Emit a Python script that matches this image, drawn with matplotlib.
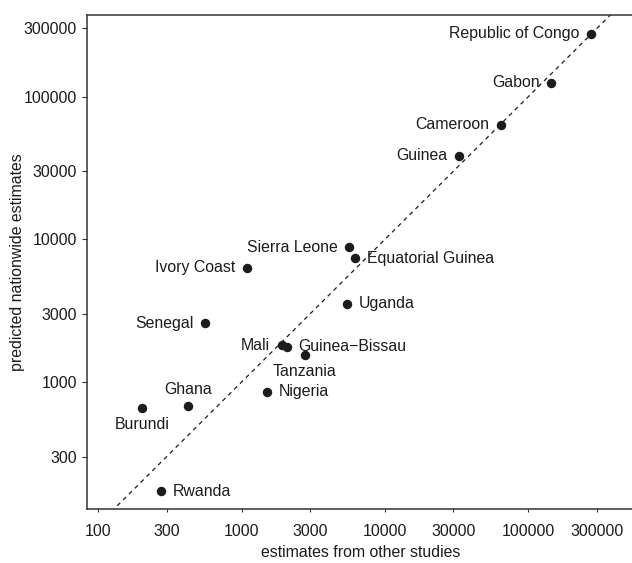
import numpy as np
import matplotlib.pyplot as plt
from matplotlib.ticker import FixedLocator, NullLocator

plt.rcParams['font.family'] = ['Liberation Sans', 'DejaVu Sans']
plt.rcParams['font.size'] = 11.4

# valores
paises = ['Republic of Congo', 'Gabon', 'Cameroon', 'Guinea', 'Sierra Leone',
          'Equatorial Guinea', 'Ivory Coast', 'Uganda', 'Senegal', 'Mali',
          'Guinea\u2212Bissau', 'Tanzania', 'Nigeria', 'Ghana', 'Burundi', 'Rwanda']
outros_estudos = [272000, 144000, 64600, 33000, 5600,
                  6220, 1084, 5450, 553, 1905,
                  2065, 2760, 1514, 423, 203, 275]
previstos = [275000, 125000, 63200, 38400, 8800,
             7360, 6320, 3520, 2580, 1815,
             1766, 1545, 851, 680, 660, 171]
posicao = ['left', 'left', 'left', 'left', 'left',
           'right', 'left', 'right', 'left', 'left',
           'right', 'below', 'right', 'above', 'below', 'right']

ticks = [100, 300, 1000, 3000, 10000, 30000, 100000, 300000]
ticks_y = [300, 1000, 3000, 10000, 30000, 100000, 300000]

cor = '#1c1c1c'

fig = plt.figure(figsize=(6.32, 5.63), dpi=100)
ax = fig.add_axes([0.138, 0.096, 0.866, 0.8765])
ax.set_xscale('log')
ax.set_yscale('log')

# linha y = x
linha = np.array([10, 1e7])
ax.plot(linha, linha, ls=(0, (3.4, 3.2)), lw=0.9, color=cor)

ax.plot(outros_estudos, previstos, 'o', ms=5.8, color=cor, mec=cor)

desloc = {'left': ((-8.3, 0), 'right', 'center'),
          'right': ((8.3, 0), 'left', 'center'),
          'above': ((0, 11.9), 'center', 'center'),
          'below': ((0, -11.9), 'center', 'center')}
for nome, x, y, p in zip(paises, outros_estudos, previstos, posicao):
    off, ha, va = desloc[p]
    ax.annotate(nome, (x, y), xytext=off, textcoords='offset points',
                ha=ha, va=va, color=cor)

ax.set_xlim(83.7, 549600)
ax.set_ylim(128.8, 370000)

ax.xaxis.set_major_locator(FixedLocator(ticks))
ax.set_xticklabels([str(t) for t in ticks])
ax.yaxis.set_major_locator(FixedLocator(ticks_y))
ax.set_yticklabels([str(t) for t in ticks_y])
ax.xaxis.set_minor_locator(NullLocator())
ax.yaxis.set_minor_locator(NullLocator())
ax.tick_params(axis='x', length=2.4, width=0.8, pad=8.3, colors='#333333', labelcolor=cor)
ax.tick_params(axis='y', length=3.8, width=0.8, pad=3.5, colors='#333333', labelcolor=cor)

for s in ['left', 'top', 'bottom']:
    ax.spines[s].set_linewidth(1.1)
    ax.spines[s].set_color('#333333')
ax.spines['right'].set_visible(False)

ax.set_xlabel('estimates from other studies', labelpad=4.5, color=cor)
ax.set_ylabel('predicted nationwide estimates', labelpad=-1, color=cor)

fig.savefig('out.png', dpi=100)
